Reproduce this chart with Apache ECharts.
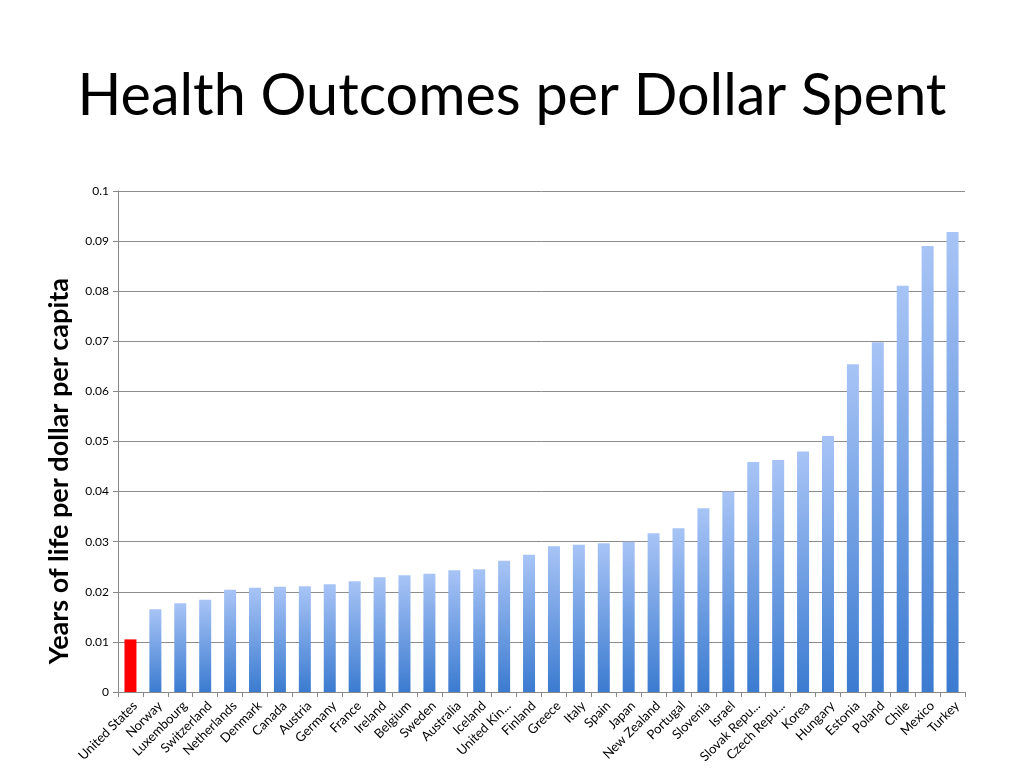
<!DOCTYPE html>
<html>
<head>
<meta charset="utf-8">
<script src="https://cdn.jsdelivr.net/npm/echarts@6/dist/echarts.min.js"></script>
<style>
html,body{margin:0;padding:0;background:#fff;}
#chart{width:1024px;height:768px;}
</style>
</head>
<body>
<div id="chart"></div>
<script>
const categories = ["United States","Norway","Luxembourg","Switzerland","Netherlands","Denmark","Canada","Austria","Germany","France","Ireland","Belgium","Sweden","Australia","Iceland","United Kin...","Finland","Greece","Italy","Spain","Japan","New Zealand","Portugal","Slovenia","Israel","Slovak Repu...","Czech Repu...","Korea","Hungary","Estonia","Poland","Chile","Mexico","Turkey"];
const values = [0.0105,0.0165,0.0177,0.0184,0.0204,0.0208,0.0210,0.0211,0.0215,0.0221,0.0229,0.0233,0.0236,0.0243,0.0245,0.0262,0.0274,0.0291,0.0294,0.0297,0.0300,0.0317,0.0327,0.0367,0.0400,0.0459,0.0463,0.0480,0.0511,0.0654,0.0698,0.0811,0.0890,0.0918];
const highlighted = "United States";
const yTicks = {min:0, max:0.1, interval:0.01};

const chart = echarts.init(document.getElementById('chart'), null, {renderer:'canvas'});
const blueGrad = new echarts.graphic.LinearGradient(0,0,0,1,[
  {offset:0,color:'#a8c4f6'},
  {offset:1,color:'#3b7bd0'}
]);
chart.setOption({
  animation:false,
  backgroundColor:'#fff',
  title:{
    text:'Health Outcomes per Dollar Spent',
    left:'center', top:62,
    textStyle:{fontFamily:'Lato',fontWeight:'normal',fontSize:57.5,color:'#000'}
  },
  grid:{left:118,right:59,top:191,bottom:76,containLabel:false},
  xAxis:{
    type:'category',
    data:categories,
    axisLine:{lineStyle:{color:'#888',width:1}},
    axisTick:{show:true,alignWithLabel:false,length:5,lineStyle:{color:'#888'}},
    axisLabel:{rotate:45,fontFamily:'Lato',fontSize:13,color:'#000',interval:0,margin:7,verticalAlign:'top'}
  },
  yAxis:{
    type:'value',
    min:yTicks.min,max:yTicks.max,interval:yTicks.interval,
    axisLine:{show:true,lineStyle:{color:'#888',width:1}},
    axisTick:{show:true,length:5,lineStyle:{color:'#888'}},
    splitLine:{lineStyle:{color:'#8c8c8c',width:1}},
    axisLabel:{fontFamily:'Lato',fontSize:12,color:'#000',margin:9}
  },
  graphic:[{
    type:'text',
    left:46, top:278,
    rotation:Math.PI/2,
    style:{text:'Years of life per dollar per capita',font:'bold 27px Lato',fill:'#000'}
  }],
  series:[{
    type:'bar',
    barWidth:12,
    data:values.map((v,i)=>({
      value:v,
      itemStyle:{color: categories[i]===highlighted ? '#ff0000' : blueGrad}
    }))
  }]
});
</script>
</body>
</html>
